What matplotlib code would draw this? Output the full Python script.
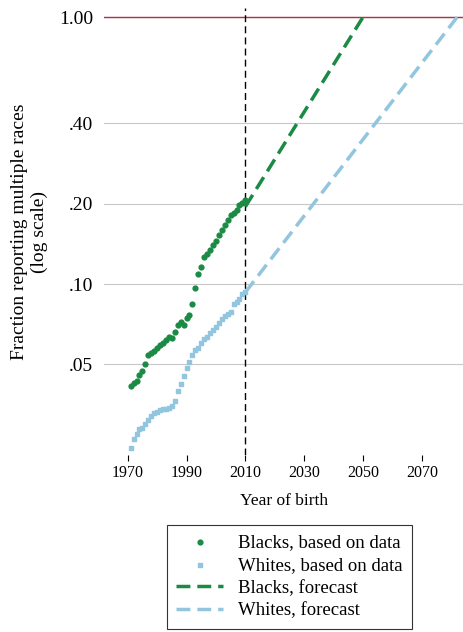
import matplotlib
matplotlib.use("Agg")
import matplotlib.pyplot as plt
import numpy as np

plt.rcParams['font.family'] = ['Liberation Serif', 'DejaVu Serif']

years = list(range(1971, 2011))
blacks = [0.0416,0.0427,0.0435,0.0458,0.0474,0.0504,0.0541,0.0550,0.0560,0.0575,
          0.0591,0.0601,0.0617,0.0634,0.0628,0.0662,0.0704,0.0723,0.0704,0.0749,
          0.0768,0.0839,0.0965,0.1092,0.1161,0.1267,0.1301,0.1347,0.1396,0.1446,
          0.1524,0.1592,0.1664,0.1738,0.1816,0.1848,0.1897,0.1982,0.2018,0.2072]
whites = [0.0243,0.0264,0.0275,0.0287,0.0290,0.0300,0.0311,0.0320,0.0328,0.0331,
          0.0337,0.0340,0.0340,0.0343,0.0349,0.0365,0.0398,0.0423,0.0454,0.0487,
          0.0513,0.0541,0.0565,0.0575,0.0601,0.0622,0.0634,0.0656,0.0674,0.0692,
          0.0718,0.0742,0.0762,0.0775,0.0789,0.0839,0.0854,0.0877,0.0916,0.0932]
blk_fc_x = [2010, 2050]
blk_fc_y = [0.195, 1.0]
wht_fc_x = [2010, 2082]
wht_fc_y = [0.0932, 1.0]
yticks = [0.05, 0.10, 0.20, 0.40, 1.00]
yticklabels = ['.05', '.10', '.20', '.40', '1.00']
xticks = [1970, 1990, 2010, 2030, 2050, 2070]

green = '#1a8a45'
blue = '#92c5de'

fig = plt.figure(figsize=(4.63, 6.32), dpi=100)
ax = fig.add_axes([0.225, 0.28, 0.775, 0.707])
ax.set_yscale('log')
for t in yticks:
    ax.axhline(t, color='#c8c8c8', lw=0.8, zorder=0)
ax.axhline(1.0, color='#b0304a', lw=1.0, zorder=1)
ax.axvline(2010, color='black', ls=(0, (5, 3)), lw=1.0)
ax.scatter(years, blacks, s=12, color=green, marker='o', label='Blacks, based on data', zorder=3)
ax.scatter(years, whites, s=6, color=blue, marker='s', label='Whites, based on data', zorder=3)
ax.plot(blk_fc_x, blk_fc_y, color=green, ls=(0, (4, 2)), lw=2.5, label='Blacks, forecast')
ax.plot(wht_fc_x, wht_fc_y, color=blue, ls=(0, (4, 2)), lw=2.5, label='Whites, forecast')
ax.set_ylim(0.0229, 1.08)
ax.set_xlim(1962, 2084)
ax.set_yticks(yticks)
ax.set_yticklabels(yticklabels, fontsize=14)
ax.minorticks_off()
ax.set_xticks(xticks)
ax.set_xticklabels([str(x) for x in xticks], fontsize=11.5)
ax.tick_params(axis='y', length=0, pad=8)
ax.tick_params(axis='x', length=4)
for s in ['top', 'right', 'left', 'bottom']:
    ax.spines[s].set_visible(False)
ax.set_xlabel('Year of birth', fontsize=12.5, labelpad=8)
ax.set_ylabel('Fraction reporting multiple races\n(log scale)', fontsize=14, labelpad=8)
leg = fig.legend(loc='lower center', bbox_to_anchor=(0.625, -0.01), fontsize=13.5,
                 frameon=True, fancybox=False, edgecolor='black', handlelength=2.5,
                 borderpad=0.5, labelspacing=0.3)
leg.get_frame().set_linewidth(0.8)
fig.savefig('out.png', dpi=100)
